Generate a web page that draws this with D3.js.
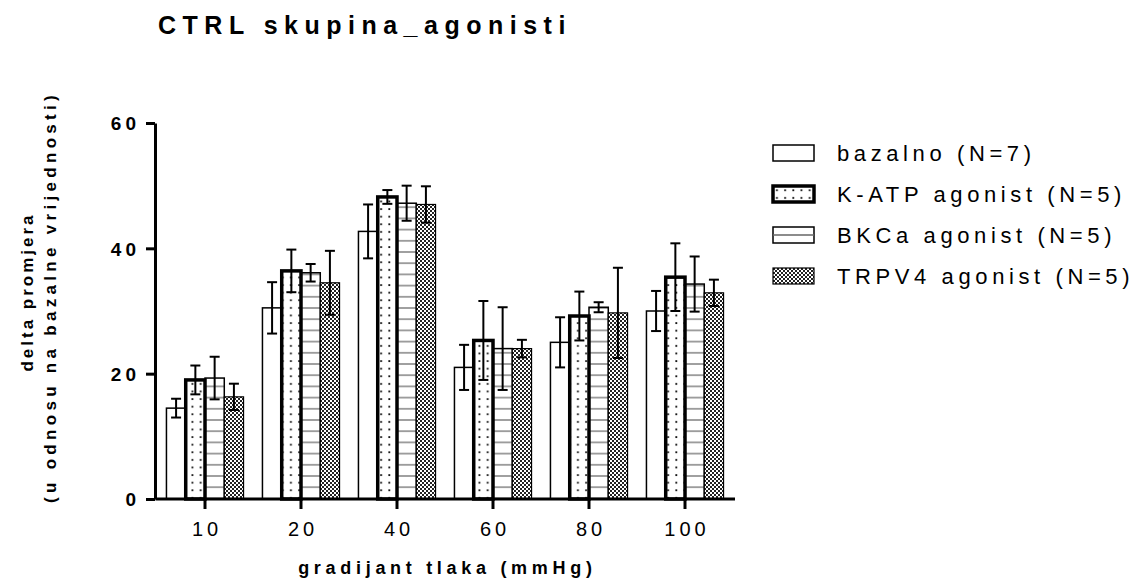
<!DOCTYPE html>
<html>
<head>
<meta charset="utf-8">
<script src="https://cdn.jsdelivr.net/npm/d3@7"></script>
<style>
  html, body { margin: 0; padding: 0; background: #fff; }
  svg { display: block; font-family: "Liberation Sans", Arial, sans-serif; }
</style>
</head>
<body>
<svg id="chart" width="1134" height="578"></svg>
<script>
// gradients (mmHg)
const categories = ['10', '20', '40', '60', '80', '100'];
const seriesNames = ['bazalno (N=7)', 'K-ATP agonist (N=5)', 'BKCa agonist (N=5)', 'TRPV4 agonist (N=5)'];
const yTicks = [0, 20, 40, 60];

// means and error
const bazalno    = [14.5, 30.5, 42.7, 21.0, 25.0, 30.0];
const bazalnoErr = [1.5, 4.1, 4.3, 3.6, 4.0, 3.2];
const katp       = [19.0, 36.4, 48.2, 25.3, 29.2, 35.4];
const katpErr    = [2.3, 3.4, 1.1, 6.3, 3.9, 5.4];
const bkca       = [19.3, 36.1, 47.2, 24.0, 30.6, 34.3];
const bkcaErr    = [3.4, 1.4, 2.8, 6.6, 0.8, 4.4];
const trpv4      = [16.3, 34.5, 47.0, 24.0, 29.7, 32.9];
const trpv4Err   = [2.1, 5.1, 2.9, 1.4, 7.2, 2.1];

const values = [bazalno, katp, bkca, trpv4];
const errors = [bazalnoErr, katpErr, bkcaErr, trpv4Err];

const svg = d3.select('#chart');

// patterns
const defs = svg.append('defs');
const dots = defs.append('pattern').attr('id','pDots').attr('patternUnits','userSpaceOnUse')
  .attr('width',8.2).attr('height',7.6);
dots.append('rect').attr('width',8.2).attr('height',7.6).attr('fill','#fff');
dots.append('rect').attr('x',3).attr('y',3).attr('width',1.8).attr('height',1.8).attr('fill','#111');

const hlines = defs.append('pattern').attr('id','pLines').attr('patternUnits','userSpaceOnUse')
  .attr('width',10).attr('height',11.2);
hlines.append('rect').attr('width',10).attr('height',11.2).attr('fill','#fff');
hlines.append('rect').attr('y',5).attr('width',10).attr('height',1.2).attr('fill','#666');

const checks = defs.append('pattern').attr('id','pChecks').attr('patternUnits','userSpaceOnUse')
  .attr('width',4).attr('height',4);
checks.append('rect').attr('width',4).attr('height',4).attr('fill','#fff');
checks.append('rect').attr('width',2).attr('height',2).attr('fill','#222');
checks.append('rect').attr('x',2).attr('y',2).attr('width',2).attr('height',2).attr('fill','#222');

const fills = ['#fff', 'url(#pDots)', 'url(#pLines)', 'url(#pChecks)'];
const strokeW = [1.5, 3.5, 1.5, 1.2];

// scales
const x0 = d3.scaleBand().domain(categories).range([157, 733]).padding(0);
const x1 = d3.scaleBand().domain(d3.range(4)).range([0, x0.bandwidth()]).paddingInner(0).paddingOuter(0.49);
const y = d3.scaleLinear().domain([0, 60]).range([499, 123]);

// bars
const rows = [];
categories.forEach((c, i) => {
  values.forEach((s, k) => rows.push({cat: c, k: k, v: s[i], e: errors[k][i]}));
});

const barG = svg.append('g');
barG.selectAll('rect.bar')
  .data(rows)
  .enter().append('rect')
  .attr('class', d => 'bar s' + d.k)
  .attr('x', d => x0(d.cat) + x1(d.k))
  .attr('y', d => y(d.v))
  .attr('width', x1.bandwidth())
  .attr('height', d => y(0) - y(d.v))
  .attr('fill', d => fills[d.k])
  .attr('stroke', '#000')
  .attr('stroke-width', d => strokeW[d.k]);
barG.selectAll('rect.s1').raise();

// error bars
const errG = svg.append('g').attr('stroke','#000').attr('stroke-width',2).attr('fill','none');
const eb = errG.selectAll('g').data(rows).enter().append('g')
  .attr('transform', d => `translate(${x0(d.cat) + x1(d.k) + x1.bandwidth()/2},0)`);
eb.append('line').attr('x1',0).attr('x2',0).attr('y1',d=>y(d.v+d.e)).attr('y2',d=>y(d.v-d.e));
eb.append('line').attr('x1',-5).attr('x2',5).attr('y1',d=>y(d.v+d.e)).attr('y2',d=>y(d.v+d.e));
eb.append('line').attr('x1',-5).attr('x2',5).attr('y1',d=>y(d.v-d.e)).attr('y2',d=>y(d.v-d.e));

// axes
const yAxis = svg.append('g').attr('transform','translate(155,0)')
  .call(d3.axisLeft(y).tickValues(yTicks).tickSize(9).tickSizeOuter(0).tickPadding(10));
yAxis.select('.domain').attr('stroke-width',3);
yAxis.selectAll('.tick line').attr('stroke-width',3);
yAxis.selectAll('.tick text')
  .attr('font-size',19).attr('font-weight','bold').attr('fill','#000')
  .attr('letter-spacing',4).attr('dx',4).attr('dy','0.36em')
  .style('font-family','"Liberation Sans", Arial, sans-serif');

const xAxis = svg.append('g').attr('transform','translate(0,499)')
  .call(d3.axisBottom(x0).tickSize(10).tickSizeOuter(0).tickPadding(0));
xAxis.select('.domain').attr('d','M155.5,0H735').attr('stroke-width',3);
xAxis.selectAll('.tick line').attr('stroke-width',3);
xAxis.selectAll('.tick text')
  .attr('font-size',20).attr('fill','#000')
  .attr('letter-spacing',4).attr('dx',2).attr('y',37).attr('dy',0)
  .style('font-family','"Liberation Sans", Arial, sans-serif');

// titles
svg.append('text').attr('x',158).attr('y',34)
  .attr('font-size',25).attr('font-weight','bold').attr('letter-spacing',6.5)
  .text('CTRL skupina_agonisti');

svg.append('text').attr('x',445 + 2.4).attr('y',574).attr('text-anchor','middle')
  .attr('font-size',18).attr('font-weight','bold').attr('letter-spacing',4.7)
  .text('gradijant tlaka (mmHg)');

svg.append('text').attr('transform','translate(33,292) rotate(-90)').attr('text-anchor','middle')
  .attr('font-size',17).attr('font-weight','bold').attr('letter-spacing',3)
  .text('delta promjera');
svg.append('text').attr('transform','translate(56,297) rotate(-90)').attr('text-anchor','middle')
  .attr('font-size',17).attr('font-weight','bold').attr('letter-spacing',4.3)
  .text('(u odnosu na bazalne vrijednosti)');

// legend
const legend = svg.append('g').attr('transform','translate(773,153)');
const li = legend.selectAll('g').data(seriesNames).enter().append('g')
  .attr('transform',(d,i)=>`translate(0,${i*41})`);
li.append('rect').attr('x',0).attr('y',-8).attr('width',41).attr('height',16)
  .attr('fill',(d,i)=> i===2 ? '#fff' : fills[i])
  .attr('stroke','#000').attr('stroke-width',(d,i)=>strokeW[i]);
li.filter((d,i)=>i===2).append('line').attr('x1',0).attr('x2',41).attr('y1',0).attr('y2',0)
  .attr('stroke','#666').attr('stroke-width',1.5);
li.append('text').attr('x',64).attr('y',0).attr('dy','0.36em')
  .attr('font-size',22).attr('letter-spacing',4.6)
  .text(d=>d);
</script>
</body>
</html>
